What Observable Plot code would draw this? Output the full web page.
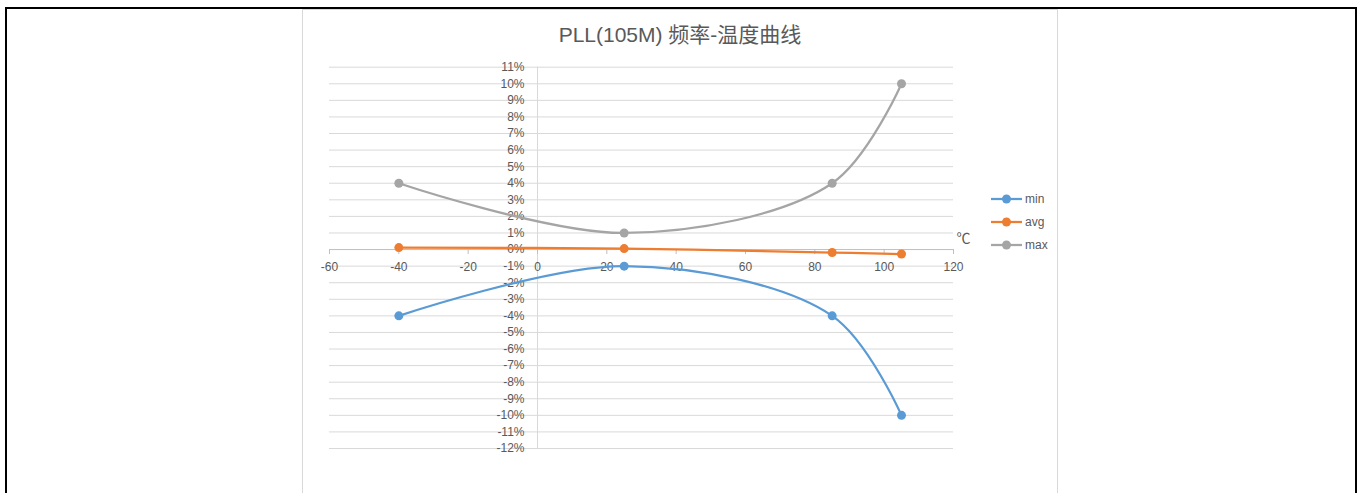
<!DOCTYPE html>
<html><head><meta charset="utf-8">
<script src="https://cdn.jsdelivr.net/npm/d3@7"></script>
<script src="https://cdn.jsdelivr.net/npm/@observablehq/plot@0.6"></script>
<style>
body{margin:0;background:#fff;overflow:hidden;}
#wrap{position:relative;width:1363px;height:493px;overflow:hidden;font-family:"Liberation Sans","Noto Sans CJK SC",sans-serif;}
#outer{position:absolute;left:5px;top:7px;width:1348px;height:520px;border:2px solid #000;box-sizing:content-box;}
#frame{position:absolute;left:302px;top:9px;width:754px;height:520px;border:1px solid #d9d9d9;}
#title{position:absolute;left:302px;width:756px;top:21px;text-align:center;font-size:21px;line-height:28px;color:#595959;}
#chart{position:absolute;left:0;top:0;}
#legend{position:absolute;left:991px;top:188px;font-size:12px;color:#595959;}
.item{display:flex;align-items:center;height:22.8px;}
.item span{margin-left:3px;}
</style></head>
<body>
<div id="wrap">
  <div id="outer"></div>
  <div id="frame"></div>
  <div id="chart"></div>
  <div id="title">PLL(105M) 频率-温度曲线</div>
  <div id="legend"></div>
</div>
<script>
const seriesNames = ["min", "avg", "max"];
const seriesColors = ["#5B9BD5", "#ED7D31", "#A5A5A5"];
const temps = [-40, 25, 85, 105];
const minVals = [-4, -1, -4, -10];
const avgVals = [0.12, 0.06, -0.18, -0.27];
const maxVals = [4, 1, 4, 10];
const xTicks = [-60, -40, -20, 0, 20, 40, 60, 80, 100, 120];
const yTicks = [11, 10, 9, 8, 7, 6, 5, 4, 3, 2, 1, 0, -1, -2, -3, -4, -5, -6, -7, -8, -9, -10, -11, -12];
const xDomain = [-60, 120];
const yDomain = [-12, 11];
const xUnit = "℃";

const valuesBySeries = {min: minVals, avg: avgVals, max: maxVals};
const rows = [];
for (const s of seriesNames) temps.forEach((t, i) => rows.push({series: s, t, v: valuesBySeries[s][i]}));

const txt = "#595959";
const chart = Plot.plot({
  width: 1363,
  height: 493,
  marginLeft: 329,
  marginRight: 410,
  marginTop: 66.7,
  marginBottom: 45,
  style: {fontFamily: '"Liberation Sans","Noto Sans CJK SC",sans-serif', fontSize: "12px", background: "transparent", overflow: "visible"},
  x: {domain: xDomain, axis: null},
  y: {domain: yDomain, axis: null},
  color: {domain: seriesNames, range: seriesColors},
  marks: [
    Plot.ruleY(yTicks.filter(d => d !== 0), {y: d => d, x1: () => xDomain[0], x2: () => xDomain[1], stroke: "#d9d9d9", strokeWidth: 1}),
    Plot.ruleX([0], {x: d => d, y1: () => yDomain[0], y2: () => yDomain[1], stroke: "#d9d9d9", strokeWidth: 1}),
    Plot.ruleY([0], {y: d => d, x1: () => xDomain[0], x2: () => xDomain[1], stroke: "#bfbfbf", strokeWidth: 1}),
    Plot.ruleX(xTicks, {x: d => d, y1: () => 0, y2: () => 0, insetBottom: -5, stroke: "#bfbfbf", strokeWidth: 1}),
    Plot.text(xTicks, {x: d => d, y: () => 0, dy: 18, text: d => String(d), fill: txt}),
    Plot.text(yTicks, {x: () => 0, y: d => d, dx: -13, textAnchor: "end", text: d => d + "%", fill: txt}),
    Plot.text([xUnit], {x: () => xDomain[1], y: () => 0, dx: 3, dy: -11, textAnchor: "start", text: d => d, fill: txt, fontSize: 14}),
    Plot.line(rows, {x: "t", y: "v", z: "series", stroke: "series", strokeWidth: 2.25, curve: "catmull-rom"}),
    Plot.dot(rows, {x: "t", y: "v", fill: "series", r: 4.5})
  ]
});
document.getElementById("chart").appendChild(chart);

const legend = document.getElementById("legend");
seriesNames.forEach((s, i) => {
  const d = document.createElement("div");
  d.className = "item";
  d.innerHTML = `<svg width="31" height="10"><line x1="0" y1="5" x2="31" y2="5" stroke="${seriesColors[i]}" stroke-width="2.25"/><circle cx="15.5" cy="5" r="4.5" fill="${seriesColors[i]}"/></svg><span>${s}</span>`;
  legend.appendChild(d);
});
</script>
</body></html>
